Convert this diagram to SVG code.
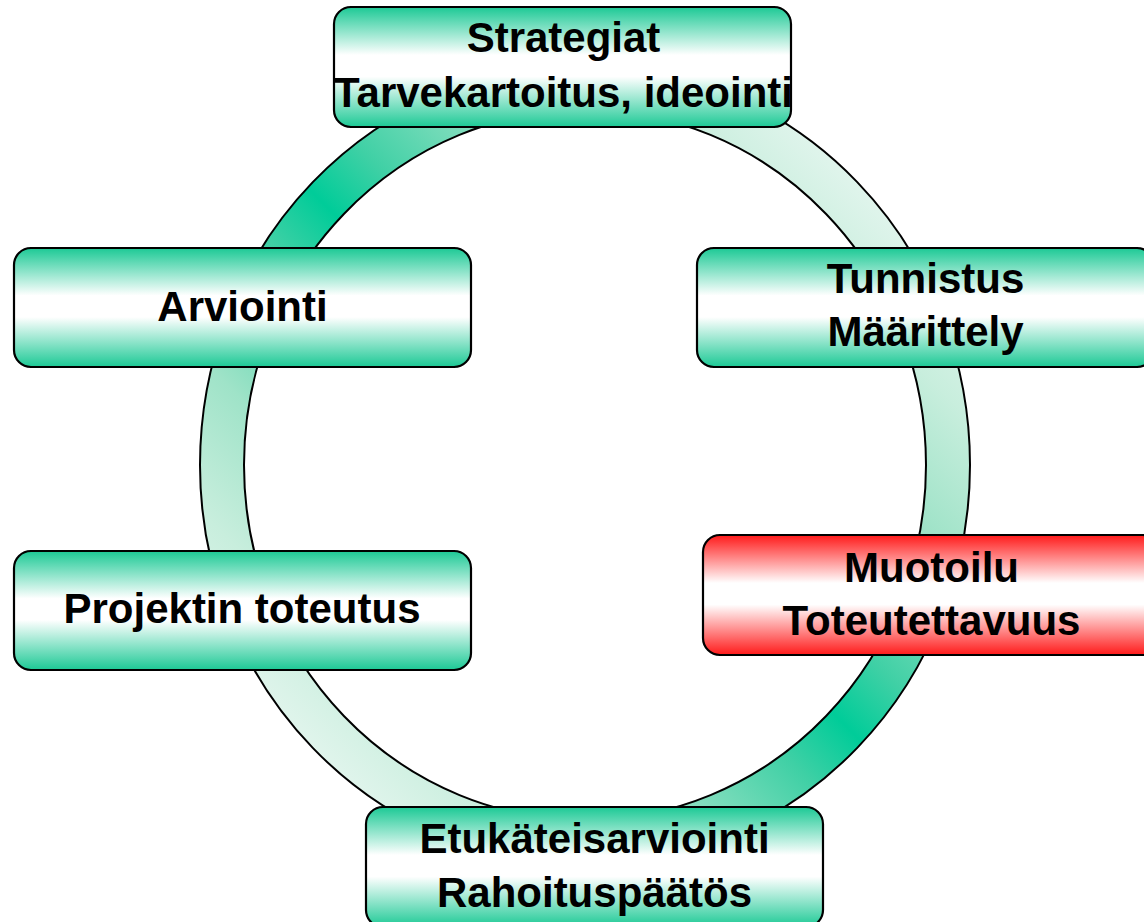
<svg xmlns="http://www.w3.org/2000/svg" width="1144" height="922" viewBox="0 0 1144 922">
<style>
.box{stroke:#000;stroke-width:2.2}
.g{fill:url(#gGreen)}
.r{fill:url(#gRed)}
.t{font-family:"Liberation Sans",Arial,sans-serif;font-weight:bold;font-size:42px;fill:#000;text-anchor:middle}
</style>
<defs>
<linearGradient id="gGreen" x1="0" y1="0" x2="0" y2="1">
<stop offset="0" stop-color="#1CC995"/>
<stop offset="0.40" stop-color="#FFFFFF"/>
<stop offset="0.58" stop-color="#FFFFFF"/>
<stop offset="1" stop-color="#1CC995"/>
</linearGradient>
<linearGradient id="gRed" x1="0" y1="0" x2="0" y2="1">
<stop offset="0" stop-color="#FF1A1A"/>
<stop offset="0.40" stop-color="#FFFFFF"/>
<stop offset="0.58" stop-color="#FFFFFF"/>
<stop offset="1" stop-color="#FF1A1A"/>
</linearGradient>
<linearGradient id="gRing" gradientUnits="userSpaceOnUse" x1="585" y1="465" x2="868" y2="182" spreadMethod="reflect">
<stop offset="0" stop-color="#00CC99"/>
<stop offset="0.16" stop-color="#3FD0A5"/>
<stop offset="0.49" stop-color="#9FE3C8"/>
<stop offset="0.76" stop-color="#C8EEDD"/>
<stop offset="1" stop-color="#E2F5ED"/>
</linearGradient>
</defs>
<g id="connectors">
<path d="M200,465 a385,400 0 1,0 770,0 a385,400 0 1,0 -770,0 Z M244,465 a341,355 0 1,0 682,0 a341,355 0 1,0 -682,0 Z" fill="url(#gRing)" fill-rule="evenodd" stroke="#000" stroke-width="2"/>
</g>
<g id="strategiat">
<rect class="box g" x="334" y="7" width="457" height="120" rx="17"/>
<text class="t" x="563.5" y="52">Strategiat</text>
<text class="t" x="563.5" y="107">Tarvekartoitus, ideointi</text>
</g>
<g id="arviointi">
<rect class="box g" x="14" y="248" width="457" height="119" rx="17"/>
<text class="t" x="242.5" y="321">Arviointi</text>
</g>
<g id="tunnistus">
<rect class="box g" x="697" y="248" width="457" height="119" rx="17"/>
<text class="t" x="925.5" y="293">Tunnistus</text>
<text class="t" x="925.5" y="346">Määrittely</text>
</g>
<g id="projektin">
<rect class="box g" x="14" y="551" width="457" height="119" rx="17"/>
<text class="t" x="242" y="623">Projektin toteutus</text>
</g>
<g id="muotoilu">
<rect class="box r" x="703" y="535" width="457" height="120" rx="17"/>
<text class="t" x="931.5" y="582">Muotoilu</text>
<text class="t" x="931.5" y="635">Toteutettavuus</text>
</g>
<g id="etukateis">
<rect class="box g" x="366" y="807" width="457" height="120" rx="17"/>
<text class="t" x="594.5" y="853">Etukäteisarviointi</text>
<text class="t" x="594.5" y="907">Rahoituspäätös</text>
</g>
</svg>
